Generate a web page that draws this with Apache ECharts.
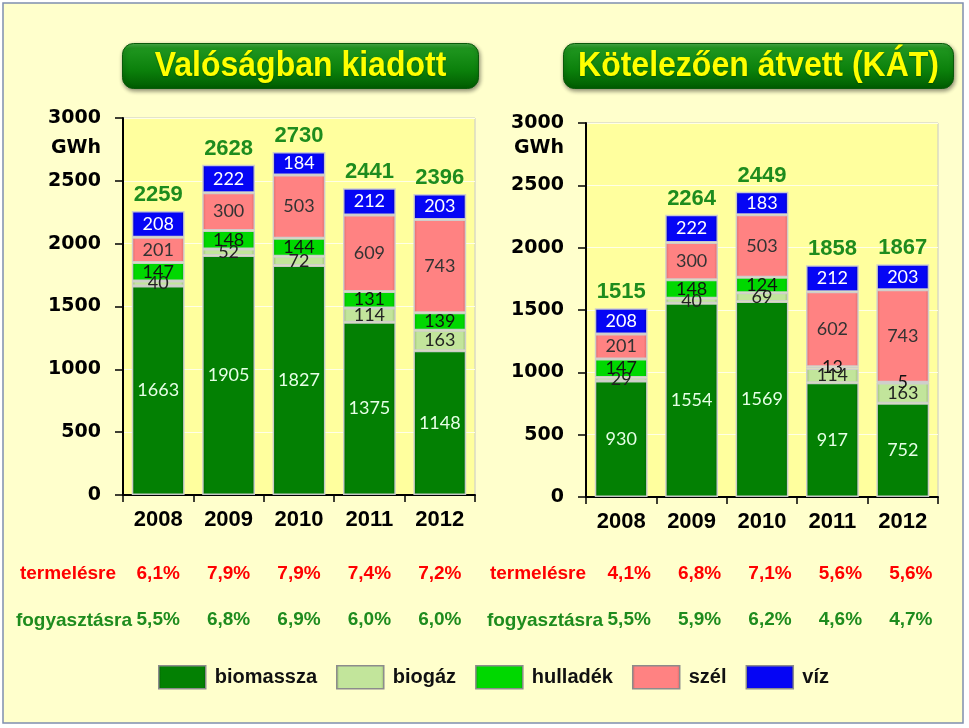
<!DOCTYPE html>
<html><head><meta charset="utf-8">
<script src="https://cdn.jsdelivr.net/npm/echarts@6/dist/echarts.min.js"></script>
<style>html,body{margin:0;padding:0;background:#fff}#c{width:969px;height:728px}</style>
</head><body><div id="c"></div>
<script>
const categories = ['2008', '2009', '2010', '2011', '2012'];
const seriesNames = ['biomassza', 'biogáz', 'hulladék', 'szél', 'víz'];

// Valóságban kiadott
const realBiomassza = [1663, 1905, 1827, 1375, 1148];
const realBiogaz    = [40, 52, 72, 114, 163];
const realHulladek  = [147, 148, 144, 131, 139];
const realSzel      = [201, 300, 503, 609, 743];
const realViz       = [208, 222, 184, 212, 203];
const realTotals    = [2259, 2628, 2730, 2441, 2396];

// Kötelezően átvett (KÁT)
const katBiomassza = [930, 1554, 1569, 917, 752];
const katBiogaz    = [29, 40, 69, 114, 163];
const katHulladek  = [147, 148, 124, 13, 5];
const katSzel      = [201, 300, 503, 602, 743];
const katViz       = [208, 222, 183, 212, 203];
const katTotals    = [1515, 2264, 2449, 1858, 1867];

const realTermeles    = ['6,1%', '7,9%', '7,9%', '7,4%', '7,2%'];
const realFogyasztas  = ['5,5%', '6,8%', '6,9%', '6,0%', '6,0%'];
const katTermeles     = ['4,1%', '6,8%', '7,1%', '5,6%', '5,6%'];
const katFogyasztas   = ['5,5%', '5,9%', '6,2%', '4,6%', '4,7%'];

const yMin = 0, yMax = 3000, yInterval = 500;
const yUnit = 'GWh';
const titleLeft = 'Valóságban kiadott';
const titleRight = 'Kötelezően átvett (KÁT)';
const rowLabelTermeles = 'termelésre';
const rowLabelFogyasztas = 'fogyasztásra';

const realData = [realBiomassza, realBiogaz, realHulladek, realSzel, realViz];
const katData = [katBiomassza, katBiogaz, katHulladek, katSzel, katViz];

const baseColors = ['#038003', '#C2E59B', '#00D800', '#FF8282', '#0505F5'];
const edgeColors = ['#016001', '#95B86A', '#00A800', '#D86565', '#0000B8'];
const labelColors = ['#E6FFE6', '#222', '#111', '#333', '#FFFFFF'];

function grad(i) {
  return new echarts.graphic.LinearGradient(0, 0, 1, 0, [
    {offset: 0, color: edgeColors[i]},
    {offset: 0.07, color: baseColors[i]},
    {offset: 0.93, color: baseColors[i]},
    {offset: 1, color: edgeColors[i]}
  ]);
}

const chart = echarts.init(document.getElementById('c'), null, {renderer: 'canvas'});

const grids = [
  {left: 123, top: 118, width: 352, height: 377},
  {left: 586, top: 123, width: 352, height: 374}
];

function makeYAxis(gi, nameGap) {
  return {
    type: 'value', gridIndex: gi, min: yMin, max: yMax, interval: yInterval,
    name: yUnit, nameLocation: 'end', nameGap: nameGap,
    nameTextStyle: {fontFamily: 'DejaVu Sans', fontWeight: 'bold', fontSize: 19, color: '#000',
      align: 'right', verticalAlign: 'middle', padding: [0, 22, 0, 0]},
    axisLine: {show: true, lineStyle: {color: '#000', width: 2}},
    axisTick: {show: true, length: 8, lineStyle: {color: '#000', width: 1.5}},
    axisLabel: {margin: 22, fontFamily: 'DejaVu Sans', fontWeight: 'bold', fontSize: 19, color: '#000',
      formatter: v => String(v)},
    splitLine: {show: true, lineStyle: {color: '#FFFFE6', width: 1}}
  };
}

function makeXAxis(gi) {
  return {
    type: 'category', gridIndex: gi, data: categories,
    axisLine: {show: true, lineStyle: {color: '#000', width: 2}},
    axisTick: {show: true, length: 7, lineStyle: {color: '#000', width: 1.5}},
    axisLabel: {margin: 14, fontFamily: 'Liberation Sans', fontWeight: 'bold', fontSize: 22, color: '#000'}
  };
}

function makePctAxis(gi, data, offset, color, shift) {
  return {
    type: 'category', gridIndex: gi, data: data, position: 'bottom', offset: offset,
    axisLine: {show: false}, axisTick: {show: false}, splitLine: {show: false},
    axisLabel: {interval: 0, margin: 8, fontFamily: 'Liberation Sans', fontWeight: 'bold', fontSize: 19,
      color: color, padding: [0, 0, 0, shift]}
  };
}

const series = [];
function addSeries(dataSet, totals, xi, yi) {
  dataSet.forEach((arr, i) => {
    series.push({
      name: seriesNames[i], type: 'bar', stack: 's' + xi, xAxisIndex: xi, yAxisIndex: yi,
      data: arr, barCategoryGap: '25%', barGap: '-100%',
      itemStyle: {color: grad(i), borderColor: 'rgba(205,205,205,0.95)', borderWidth: 1.5},
      label: {show: true, position: 'inside', fontFamily: 'Lato', fontSize: 18, color: labelColors[i]},
      emphasis: {disabled: true}, silent: true
    });
  });
  series.push({
    name: 'total', type: 'bar', xAxisIndex: xi, yAxisIndex: yi, data: totals,
    barCategoryGap: '25%', barGap: '-100%', z: 1,
    itemStyle: {color: 'rgba(0,0,0,0)'},
    label: {show: true, position: 'top', distance: 5, fontFamily: 'Liberation Sans', fontWeight: 'bold',
      fontSize: 22, color: '#1E8C1E'},
    emphasis: {disabled: true}, silent: true
  });
}
addSeries(realData, realTotals, 0, 0);
addSeries(katData, katTotals, 3, 1);

function titleBox(x, w, text) {
  return {
    type: 'group', left: x, top: 43,
    children: [
      {type: 'rect', shape: {x: 0, y: 0, width: w, height: 45, r: 11},
        style: {fill: new echarts.graphic.LinearGradient(0, 0, 0, 1, [
          {offset: 0, color: '#4DB24D'}, {offset: 0.12, color: '#1F961F'},
          {offset: 0.6, color: '#0B800B'}, {offset: 1, color: '#005A00'}]),
          stroke: '#0A5A0A', lineWidth: 1,
          shadowBlur: 4, shadowOffsetY: 2, shadowOffsetX: 1, shadowColor: 'rgba(0,0,0,0.45)'}},
      {type: 'text', x: w / 2, y: 23, scaleY: 1.12,
        style: {text: text, fill: '#FFFF00', font: 'bold 32px "Liberation Sans"', align: 'center',
          verticalAlign: 'middle', textShadowColor: 'rgba(0,60,0,0.6)', textShadowBlur: 2, textShadowOffsetY: 1}}
    ]
  };
}

const rowText = (x, y, text, color) => ({
  type: 'text', x: x, y: y,
  style: {text: text, fill: color, font: 'bold 19px "Liberation Sans"', align: 'center', verticalAlign: 'middle'}
});

const option = {
  backgroundColor: '#FFFFFF',
  animation: false,
  grid: grids.map(g => Object.assign({}, g, {
    show: true, borderColor: '#C8C8C8', borderWidth: 1,
    backgroundColor: '#FFFF9E'
  })),
  xAxis: [
    makeXAxis(0),
    makePctAxis(0, realTermeles, 61, '#FF0000', 0),
    makePctAxis(0, realFogyasztas, 107, '#1E8C1E', 0),
    makeXAxis(1),
    makePctAxis(1, katTermeles, 59, '#FF0000', 16),
    makePctAxis(1, katFogyasztas, 105, '#1E8C1E', 16)
  ],
  yAxis: [makeYAxis(0, -30), makeYAxis(1, -25)],
  legend: {
    data: seriesNames, left: 153, top: 660, itemWidth: 47, itemHeight: 23, itemGap: 19,
    icon: 'rect',
    itemStyle: {borderColor: '#8C8C8C', borderWidth: 1.5},
    textStyle: {fontFamily: 'Liberation Sans', fontWeight: 'bold', fontSize: 20, color: '#111', padding: [0, 0, 0, 4]},
    selectedMode: false
  },
  graphic: [
    {type: 'rect', z: -10, shape: {x: 3, y: 3, width: 960, height: 720},
      style: {fill: '#FFFFCC', stroke: '#7F8FAF', lineWidth: 1.5}},
    titleBox(122, 356, titleLeft),
    titleBox(563, 390, titleRight),
    rowText(68, 574, rowLabelTermeles, '#FF0000'),
    rowText(74, 621, rowLabelFogyasztas, '#1E8C1E'),
    rowText(538, 574, rowLabelTermeles, '#FF0000'),
    rowText(545, 621, rowLabelFogyasztas, '#1E8C1E')
  ],
  series: series
};
chart.setOption(option);
</script>
</body></html>
